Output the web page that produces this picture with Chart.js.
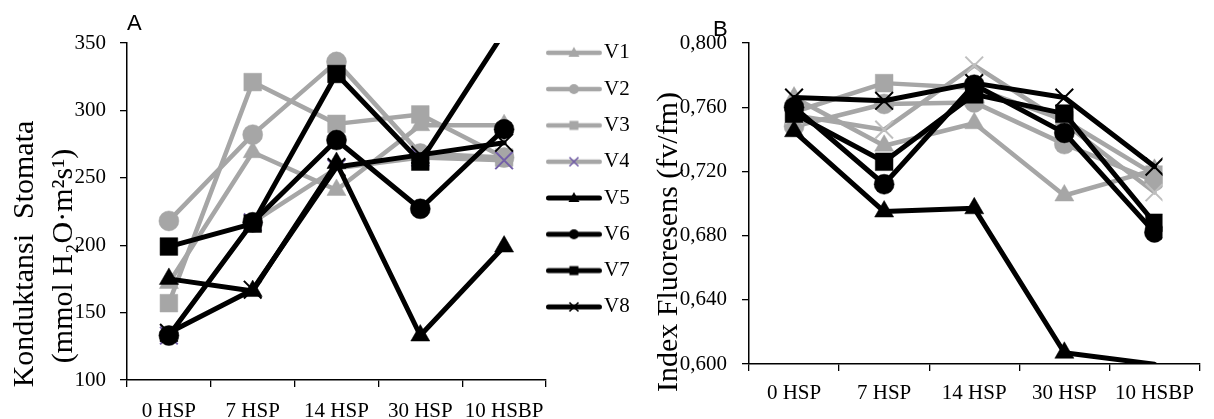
<!DOCTYPE html>
<html><head><meta charset="utf-8">
<script src="https://cdn.jsdelivr.net/npm/chart.js@4.4.1/dist/chart.umd.min.js"></script>
<style>
html,body{margin:0;padding:0;background:#fff;overflow:hidden;width:1214px;height:419px}
#wrapA{position:absolute;left:0;top:0;width:629px;height:419px}
#wrapB{position:absolute;left:640px;top:0;width:574px;height:419px}
canvas{display:block}
</style></head><body>
<div id="wrapA"><canvas id="cA" width="629" height="419"></canvas></div>
<div id="wrapB"><canvas id="cB" width="574" height="419"></canvas></div>
<script>
// ---------- data ----------
const categories = ['0 HSP', '7 HSP', '14 HSP', '30 HSP', '10 HSBP'];
const seriesNames = ['V1', 'V2', 'V3', 'V4', 'V5', 'V6', 'V7', 'V8'];

// Panel A: Konduktansi Stomata
const condV1 = [172, 269, 241, 289, 289];
const condV2 = [218, 282, 336, 268, 265];
const condV3 = [157, 321, 290, 297, 265];
const condV4 = [133, 217, 257, 265, 263];
const condV5 = [175, 166, 261, 133, 199];
const condV6 = [133, 217, 278, 227, 286];
const condV7 = [199, 216, 327, 262, 358];
const condV8 = [135, 167, 258, 267, 276];

// Panel B: Index Fluoresens
const fluoV1 = [0.766, 0.736, 0.750, 0.705, 0.721];
const fluoV2 = [0.748, 0.762, 0.763, 0.737, 0.714];
const fluoV3 = [0.757, 0.775, 0.772, 0.752, 0.718];
const fluoV4 = [0.755, 0.746, 0.786, 0.750, 0.707];
const fluoV5 = [0.745, 0.695, 0.697, 0.607, 0.5999];
const fluoV6 = [0.760, 0.712, 0.774, 0.744, 0.682];
const fluoV7 = [0.756, 0.726, 0.768, 0.756, 0.688];
const fluoV8 = [0.766, 0.764, 0.775, 0.766, 0.723];

const condTicks = [100, 150, 200, 250, 300, 350];
const fluoTickValues = [0.6, 0.64, 0.68, 0.72, 0.76, 0.8];
const fluoTicks = ['0,600', '0,640', '0,680', '0,720', '0,760', '0,800'];

const titleA = 'A';
const titleB = 'B';
const yTitleA1 = 'Konduktansi  Stomata';
const yTitleA2 = '(mmol H\u2082O\u00B7m\u00B2s\u00B9)';
const yTitleB = 'Index Fluoresens (fv/fm)';

// ---------- styles ----------
const GRAY = '#A6A6A6';
const BLACK = '#000000';
const PURPLE = '#7460A8';
const LIGHTGRAY = '#BFBFBF';
const SERIF = '"Liberation Serif", "Times New Roman", serif';
const SANS = '"Liberation Sans", Arial, sans-serif';

const styles = ['triangle', 'circle', 'rect', 'crossRot', 'triangle', 'circle', 'rect', 'crossRot'];
const radii = { triangle: 11, circle: 10, rect: 12.5, crossRot: 12.5 };

function makeDatasets(values, yMin, yMax, v4MarkColor) {
  return values.map((vals, i) => {
    const isGray = i < 4;
    const lineColor = isGray ? GRAY : BLACK;
    const ps = styles[i];
    const markColor = (i === 3) ? v4MarkColor : lineColor;
    const r = radii[ps];
    return {
      label: seriesNames[i],
      data: vals,
      order: 8 - i,
      borderColor: lineColor,
      backgroundColor: markColor,
      borderWidth: isGray ? 4.5 : 5,
      borderJoinStyle: 'round',
      borderCapStyle: 'round',
      tension: 0,
      pointStyle: ps,
      pointRadius: (ctx) => {
        const v = ctx.raw;
        return (v > yMax || v < yMin) ? 0 : r;
      },
      pointHoverRadius: r,
      pointBackgroundColor: markColor,
      pointBorderColor: markColor,
      pointBorderWidth: ps === 'crossRot' ? 2 : 0.5,
    };
  });
}

function makeIcon(i, markColor) {
  const c = document.createElement('canvas');
  c.width = 63; c.height = 24;
  const g = c.getContext('2d');
  const isGray = i < 4;
  const lc = isGray ? GRAY : BLACK;
  const lw = isGray ? 4.5 : 5;
  g.strokeStyle = lc; g.lineWidth = lw; g.lineCap = 'round';
  g.beginPath(); g.moveTo(lw / 2, 12); g.lineTo(56 - lw / 2, 12); g.stroke();
  const cx = 28, cy = 12;
  g.fillStyle = markColor; g.strokeStyle = markColor;
  const ps = styles[i];
  if (ps === 'triangle') {
    g.beginPath(); g.moveTo(cx, cy - 6); g.lineTo(cx + 5.5, cy + 4); g.lineTo(cx - 5.5, cy + 4); g.closePath(); g.fill();
  } else if (ps === 'circle') {
    g.beginPath(); g.arc(cx, cy, 5, 0, Math.PI * 2); g.fill();
  } else if (ps === 'rect') {
    g.fillRect(cx - 4.5, cy - 4.5, 9, 9);
  } else {
    g.lineWidth = 1.6; g.lineCap = 'butt';
    g.beginPath(); g.moveTo(cx - 4.5, cy - 4.5); g.lineTo(cx + 4.5, cy + 4.5);
    g.moveTo(cx + 4.5, cy - 4.5); g.lineTo(cx - 4.5, cy + 4.5); g.stroke();
  }
  return c;
}

const iconsA = seriesNames.map((n, i) => makeIcon(i, i === 3 ? PURPLE : (i < 4 ? GRAY : BLACK)));

// panel texts: rotated y-axis titles and panel letters
const panelTextPlugin = {
  id: 'panelTexts',
  afterDraw(chart, args, opts) {
    const ctx = chart.ctx;
    ctx.save();
    ctx.fillStyle = '#000';
    (opts.items || []).forEach(l => {
      ctx.save();
      ctx.font = l.font;
      ctx.textAlign = l.align || 'center';
      ctx.textBaseline = 'alphabetic';
      ctx.translate(l.x, l.y);
      if (l.rotate) ctx.rotate(-Math.PI / 2);
      ctx.fillText(l.text, 0, 0);
      ctx.restore();
    });
    ctx.restore();
  }
};

function gridOpts(offset) {
  return { display: true, drawOnChartArea: false, drawTicks: true, tickLength: 7, color: '#000', lineWidth: 1.3, offset: offset };
}
const borderOpts = { display: true, color: '#000', width: 1.5 };

// ---------- chart A ----------
const yA = { min: 100, max: 350 };
new Chart(document.getElementById('cA'), {
  type: 'line',
  data: {
    labels: categories,
    datasets: makeDatasets([condV1, condV2, condV3, condV4, condV5, condV6, condV7, condV8], yA.min, yA.max, PURPLE),
  },
  plugins: [panelTextPlugin],
  options: {
    responsive: false,
    animation: false,
    devicePixelRatio: 1,
    layout: { padding: 0 },
    events: [],
    plugins: {
      tooltip: { enabled: false },
      title: {
        display: true, text: titleA, align: 'start', fullSize: false, color: '#000',
        font: { family: SANS, size: 22, weight: 'normal', lineHeight: 1.2 },
        padding: { top: 11, bottom: 5.6 },
      },
      legend: {
        display: true, position: 'right', align: 'start', maxWidth: 83,
        title: { display: true, text: ' ', font: { size: 10, lineHeight: 1.2 }, padding: { top: 15, bottom: 0 } },
        labels: {
          usePointStyle: true, pointStyleWidth: 32.2, padding: 15.3, color: '#000',
          font: { family: SERIF, size: 21 },
          sort: (a, b) => a.datasetIndex - b.datasetIndex,
          generateLabels(chart) {
            const items = Chart.defaults.plugins.legend.labels.generateLabels(chart);
            items.forEach(it => { it.pointStyle = iconsA[it.datasetIndex]; it.rotation = 0; });
            return items;
          },
        },
      },
      panelTexts: {
        items: [
          { text: yTitleA1, x: 33, y: 254, rotate: true, font: '30px ' + SERIF },
          { text: yTitleA2, x: 72, y: 256, rotate: true, font: '30px ' + SERIF },
        ],
      },
    },
    scales: {
      x: {
        type: 'category', offset: true,
        grid: gridOpts(true), border: borderOpts,
        ticks: { color: '#000', font: { family: SERIF, size: 21 }, padding: 12, autoSkip: false, maxRotation: 0 },
        afterFit(s) { s.height = 39; },
      },
      y: {
        min: yA.min, max: yA.max,
        grid: gridOpts(false), border: borderOpts,
        afterBuildTicks(s) { s.ticks = condTicks.map(v => ({ value: v })); },
        ticks: { color: '#000', font: { family: SERIF, size: 21 }, padding: 14 },
        afterFit(s) { s.width = 127; },
      },
    },
  },
});

// ---------- chart B ----------
const yB = { min: 0.6, max: 0.8 };
const dsB = makeDatasets([fluoV1, fluoV2, fluoV3, fluoV4, fluoV5, fluoV6, fluoV7, fluoV8], yB.min, yB.max, LIGHTGRAY);
dsB.forEach(d => { d.clip = { left: 30, top: 30, right: -37, bottom: 0 }; });
new Chart(document.getElementById('cB'), {
  type: 'line',
  data: { labels: categories, datasets: dsB },
  plugins: [panelTextPlugin],
  options: {
    responsive: false,
    animation: false,
    devicePixelRatio: 1,
    layout: { padding: { left: 0, right: 2, top: 43, bottom: 0 } },
    events: [],
    plugins: {
      tooltip: { enabled: false },
      legend: { display: false },
      title: { display: false },
      panelTexts: {
        items: [
          { text: titleB, x: 73, y: 36, align: 'left', font: '22px ' + SANS },
          { text: yTitleB, x: 37, y: 242, rotate: true, font: '30px ' + SERIF },
        ],
      },
    },
    scales: {
      x: {
        type: 'category', offset: true,
        grid: gridOpts(true), border: borderOpts,
        ticks: { color: '#000', font: { family: SERIF, size: 21 }, padding: 10, autoSkip: false, maxRotation: 0 },
        afterFit(s) { s.height = 55; },
      },
      y: {
        min: yB.min, max: yB.max,
        grid: gridOpts(false), border: borderOpts,
        afterBuildTicks(s) { s.ticks = fluoTickValues.map(v => ({ value: v })); },
        ticks: {
          color: '#000', font: { family: SERIF, size: 21 }, padding: 15,
          callback: (v, idx) => fluoTicks[idx],
        },
        afterFit(s) { s.width = 109; },
      },
    },
  },
});
</script>
</body></html>
